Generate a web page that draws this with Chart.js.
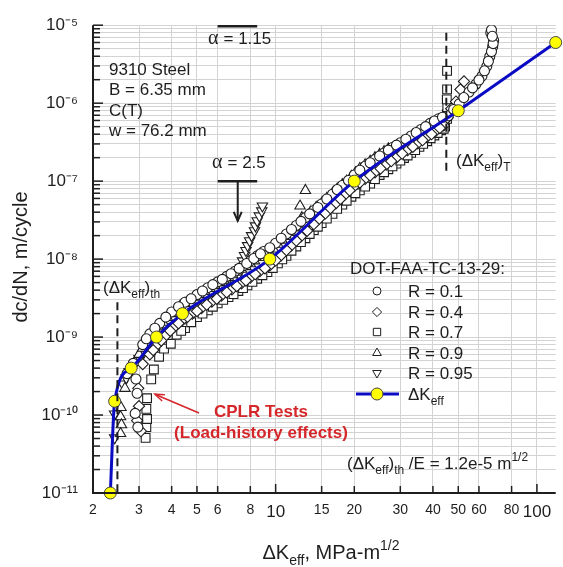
<!DOCTYPE html>
<html>
<head>
<meta charset="utf-8">
<script src="https://cdn.jsdelivr.net/npm/chart.js@4.4.1/dist/chart.umd.min.js"></script>
<style>
  html, body { margin: 0; padding: 0; background: #fff; }
</style>
</head>
<body>
<canvas id="crackChart" width="563" height="567"></canvas>
<script>
const FONT = "Arial, 'Liberation Sans', Helvetica, sans-serif";
const SERIF = "'Times New Roman', 'Liberation Serif', serif";
const INK = "#1e1e1e";

// axis ticks
const xTicks = [2, 3, 4, 5, 6, 8, 10, 15, 20, 30, 40, 50, 60, 80, 100];
const yDecades = [-11, -10, -9, -8, -7, -6, -5];
const yDecadeLabels = ["10⁻¹¹", "10⁻¹⁰", "10⁻⁹", "10⁻⁸", "10⁻⁷", "10⁻⁶", "10⁻⁵"];

// ΔKeff baseline curve (yellow points)
const keffK = [2.33, 2.42, 2.8, 3.5, 4.4, 9.5, 20, 50, 118];
const keffRate = [1e-11, 1.5e-10, 4e-10, 1e-9, 2e-9, 1e-8, 1e-7, 8e-7, 6e-6];

// R = 0.1 (circles)
const r01K = [2.92, 2.95, 2.9, 2.97, 2.7, 2.85, 3.1, 3.3, 3.6, 4.0, 4.5, 5.0, 5.5, 6.0, 6.5, 7.0, 7.5, 8.0, 8.5, 9.0,
  10, 11, 12, 13, 14, 15, 16.5, 18, 20, 22, 24, 26, 28, 30, 33, 36, 39, 42, 45.8,
  50.4, 55.0, 58.4, 61.6, 64.3, 66.0, 67.7, 68.3, 66.6, 67.0,
  3.2, 3.45, 3.8, 4.25, 4.75, 5.25, 5.75, 6.25, 6.75, 7.25, 7.75, 8.25, 8.75, 9.5, 10.5, 11.5, 12.5, 13.5, 14.5, 15.7,
  17.2, 19, 21, 23, 25, 27, 29, 31.5, 34.5, 37.5, 40.5, 43.5, 48, 52.5, 56.7, 60, 63, 65.2, 67, 68, 67.5];
const r01Rate = [2.9e-10, 1.9e-10, 1.05e-10, 7e-11, 3.4e-10, 4.6e-10, 8e-10, 1.1e-9, 1.5e-9, 2.1e-9, 2.8e-9, 3.5e-9, 4.3e-9, 5.1e-9, 6e-9, 7e-9, 8.2e-9, 9.5e-9, 1.1e-8, 1.25e-8,
  1.6e-8, 2.1e-8, 2.7e-8, 3.4e-8, 4.2e-8, 5.1e-8, 6.8e-8, 8.8e-8, 1.2e-7, 1.55e-7, 1.9e-7, 2.3e-7, 2.7e-7, 3.1e-7, 3.8e-7, 4.6e-7, 5.5e-7, 6.3e-7, 6.9e-7,
  9.8e-7, 1.39e-6, 1.75e-6, 2.22e-6, 2.97e-6, 3.98e-6, 5.3e-6, 6.4e-6, 8e-6, 8.7e-6,
  9.5e-10, 1.3e-9, 1.8e-9, 2.45e-9, 3.1e-9, 3.9e-9, 4.7e-9, 5.5e-9, 6.5e-9, 7.6e-9, 8.8e-9, 1.02e-8, 1.17e-8, 1.4e-8, 1.85e-8, 2.4e-8, 3.05e-8, 3.8e-8, 4.6e-8, 5.9e-8,
  7.8e-8, 1.02e-7, 1.38e-7, 1.72e-7, 2.1e-7, 2.5e-7, 2.9e-7, 3.45e-7, 4.2e-7, 5e-7, 5.9e-7, 6.6e-7, 8.3e-7, 1.18e-6, 1.57e-6, 1.98e-6, 2.6e-6, 3.45e-6, 4.6e-6, 5.8e-6, 7.2e-6];

// R = 0.4 (diamonds)
const r04K = [3.0, 2.95, 3.05, 2.98, 3.1, 3.3, 3.5, 3.8, 4.1, 4.4, 4.8, 5.2, 5.7, 6.2, 6.8, 7.4, 8.0, 8.7, 9.5, 10.5,
  11.5, 12.5, 14, 15.5, 17, 18.5, 20, 22, 24, 26.5, 29, 32, 35, 38, 41, 44, 47, 49, 51, 52.6,
  3.4, 3.65, 3.95, 4.25, 4.6, 5.0, 5.45, 5.95, 6.5, 7.1, 7.7, 8.35, 9.1, 10, 11, 12, 13.2, 14.7, 16.2, 17.7,
  19.2, 21, 23, 25.2, 27.7, 30.5, 33.5, 36.5, 39.5, 42.5, 45.5];
const r04Rate = [1.3e-10, 8.5e-11, 6.2e-11, 2.2e-10, 4.5e-10, 6e-10, 7.8e-10, 1.05e-9, 1.35e-9, 1.65e-9, 2e-9, 2.35e-9, 2.85e-9, 3.4e-9, 4.1e-9, 4.9e-9, 5.8e-9, 7e-9, 8.3e-9, 1.12e-8,
  1.5e-8, 1.95e-8, 2.8e-8, 3.85e-8, 5.2e-8, 6.8e-8, 8.6e-8, 1.07e-7, 1.3e-7, 1.63e-7, 2e-7, 2.5e-7, 3.05e-7, 3.7e-7, 4.4e-7, 5.2e-7, 8.5e-7, 1.05e-6, 1.5e-6, 1.9e-6,
  6.8e-10, 9e-10, 1.2e-9, 1.5e-9, 1.82e-9, 2.15e-9, 2.6e-9, 3.1e-9, 3.75e-9, 4.5e-9, 5.3e-9, 6.4e-9, 7.6e-9, 9.6e-9, 1.3e-8, 1.72e-8, 2.3e-8, 3.3e-8, 4.5e-8, 5.9e-8,
  7.6e-8, 9.6e-8, 1.18e-7, 1.45e-7, 1.8e-7, 2.25e-7, 2.75e-7, 3.35e-7, 4e-7, 4.8e-7, 6.5e-7];

// R = 0.7 (squares)
const r07K = [3.18, 3.2, 3.22, 3.2, 3.22, 3.34, 3.42, 3.58, 3.74, 3.97, 4.18, 4.5, 5.0, 5.5, 6.0, 6.6, 7.2, 7.8, 8.5, 9.3,
  10.2, 11, 12, 13, 14, 15, 16.5, 18, 19.5, 21, 23, 25, 27, 29, 31, 33, 35.5, 38, 40.5, 43,
  44.5, 45.3, 45.2, 45.4, 45.2, 45.3, 45.3,
  4.35, 4.75, 5.25, 5.75, 6.3, 6.9, 7.5, 8.15, 8.9, 9.75, 10.6, 11.5, 12.5, 13.5, 14.5, 15.7, 17.2, 18.7, 20.2, 22,
  24, 26, 28, 30, 32, 34.2, 36.7, 39.2, 41.7, 44];
const r07Rate = [5.1e-11, 7e-11, 8.9e-11, 1.2e-10, 1.64e-10, 2.87e-10, 3.84e-10, 5.6e-10, 7.1e-10, 8.2e-10, 1.07e-9, 1.3e-9, 1.8e-9, 2.2e-9, 2.7e-9, 3.25e-9, 3.9e-9, 4.6e-9, 5.6e-9, 6.8e-9,
  8.8e-9, 1.1e-8, 1.45e-8, 1.85e-8, 2.35e-8, 2.9e-8, 3.8e-8, 5e-8, 6.3e-8, 7.6e-8, 9.3e-8, 1.2e-7, 1.42e-7, 1.68e-7, 1.98e-7, 2.3e-7, 2.75e-7, 3.25e-7, 3.85e-7, 4.5e-7,
  5e-7, 6.3e-7, 7.2e-7, 8.9e-7, 1.12e-6, 1.5e-6, 2.6e-6,
  1.2e-9, 1.55e-9, 2e-9, 2.45e-9, 3e-9, 3.55e-9, 4.25e-9, 5.1e-9, 6.2e-9, 7.7e-9, 9.9e-9, 1.28e-8, 1.65e-8, 2.1e-8, 2.6e-8, 3.3e-8, 4.4e-8, 5.6e-8, 7e-8, 8.5e-8,
  1.06e-7, 1.3e-7, 1.55e-7, 1.83e-7, 2.13e-7, 2.5e-7, 3e-7, 3.55e-7, 4.15e-7, 4.7e-7];

// R = 0.9 (triangles)
const r09K = [2.56, 2.55, 2.57, 2.55, 2.65, 2.75, 2.9, 3.0, 3.2, 3.4, 3.7, 4.0, 4.3, 4.7, 5.1, 5.6, 6.1, 6.6, 7.1, 7.7,
  8.3, 9.0, 9.8, 10.6, 11.4, 12.2, 12.4, 12.6, 13.0, 13.6, 15, 16.5, 18, 19.5, 21, 23, 25, 27,
  3.1, 3.3, 3.55, 3.85, 4.15, 4.5, 4.9, 5.35, 5.85, 6.35, 6.85, 7.4, 8.0, 8.65, 9.4, 10.2, 11, 11.8, 14.3, 15.7,
  17.2, 18.7, 20.2, 22, 24, 26];
const r09Rate = [1.25e-10, 9.5e-11, 7.5e-11, 5.8e-11, 2.2e-10, 3.3e-10, 4.8e-10, 6e-10, 8.5e-10, 1.15e-9, 1.55e-9, 2e-9, 2.45e-9, 3e-9, 3.5e-9, 4.2e-9, 5e-9, 5.8e-9, 6.8e-9, 8e-9,
  9.5e-9, 1.15e-8, 1.35e-8, 1.75e-8, 2.2e-8, 2.8e-8, 4.8e-8, 3.4e-8, 7.6e-8, 4e-8, 5.2e-8, 6.9e-8, 9e-8, 1.15e-7, 1.45e-7, 1.8e-7, 2.2e-7, 2.6e-7,
  7.2e-10, 1e-9, 1.35e-9, 1.78e-9, 2.2e-9, 2.7e-9, 3.25e-9, 3.85e-9, 4.6e-9, 5.4e-9, 6.3e-9, 7.4e-9, 8.7e-9, 1.05e-8, 1.25e-8, 1.55e-8, 1.95e-8, 2.5e-8, 4.6e-8, 6e-8,
  7.9e-8, 1e-7, 1.28e-7, 1.62e-7, 2e-7, 2.4e-7];

// R = 0.95 (down triangles)
const r095K = [2.42, 2.42, 2.6, 2.75, 2.9, 3.1, 3.3, 3.6, 3.9, 4.2, 4.6, 5.0, 5.5, 6.0, 6.5, 7.0, 7.2, 7.35, 7.47, 7.6,
  7.7, 7.81, 7.95, 8.09, 8.3, 8.37, 8.5, 8.66, 8.85, 8.9,
  2.68, 2.82, 3.0, 3.2, 3.45, 3.75, 4.05, 4.4, 4.8, 5.25, 5.75, 6.25, 6.75];
const r095Rate = [1.03e-10, 5.1e-11, 2.5e-10, 3.6e-10, 4.6e-10, 6e-10, 7.5e-10, 9.5e-10, 1.2e-9, 1.5e-9, 1.85e-9, 2.2e-9, 2.7e-9, 3.3e-9, 4e-9, 4.8e-9, 6.3e-9, 7.8e-9, 9.5e-9, 1.11e-8,
  1.29e-8, 1.49e-8, 1.72e-8, 2e-8, 2.31e-8, 2.67e-8, 3.1e-8, 3.58e-8, 4.15e-8, 4.8e-8,
  3e-10, 4.1e-10, 5.3e-10, 6.8e-10, 8.5e-10, 1.07e-9, 1.35e-9, 1.68e-9, 2e-9, 2.45e-9, 3e-9, 3.65e-9, 4.4e-9];

const legendLabels = ["R = 0.1", "R = 0.4", "R = 0.7", "R = 0.9", "R = 0.95"];

const pts = (ks, rs) => ks.map((k, i) => ({ x: k, y: rs[i] }));

function markerSet(label, ks, rs, style, radius, rotation) {
  return {
    label,
    data: pts(ks, rs),
    showLine: false,
    pointStyle: style,
    pointRadius: radius,
    pointRotation: rotation || 0,
    pointBackgroundColor: "#ffffff",
    pointBorderColor: INK,
    pointBorderWidth: 1.1,
    order: 2,
  };
}

const markerStyles = [
  { style: "circle", r: 5, rot: 0 },
  { style: "rectRot", r: 5.6, rot: 0 },
  { style: "rect", r: 6.2, rot: 0 },
  { style: "triangle", r: 6, rot: 0 },
  { style: "triangle", r: 6, rot: 180 },
];

// little rich-text helper for sub/superscripts
function rich(ctx, x, y, parts, size, color, align, weight) {
  const w0 = weight ? weight + " " : "";
  const fonts = parts.map(([t, k]) =>
    k === "sub" || k === "sup" ? `${w0}${Math.round(size * 0.72)}px ${FONT}` : `${w0}${size}px ${FONT}`);
  let w = 0;
  parts.forEach((p, i) => { ctx.font = fonts[i]; w += ctx.measureText(p[0]).width; });
  let cx = align === "center" ? x - w / 2 : x;
  ctx.fillStyle = color;
  ctx.textAlign = "left";
  ctx.textBaseline = "alphabetic";
  parts.forEach(([t, k], i) => {
    ctx.font = fonts[i];
    const dy = k === "sub" ? size * 0.3 : k === "sup" ? -size * 0.45 : 0;
    ctx.fillText(t, cx, y + dy);
    cx += ctx.measureText(t).width;
  });
}

function seg(ctx, x1, y1, x2, y2) {
  ctx.beginPath(); ctx.moveTo(x1, y1); ctx.lineTo(x2, y2); ctx.stroke();
}

function alphaText(ctx, x, y, rest) {
  ctx.font = `20px ${SERIF}`;
  ctx.fillText("α", x, y);
  const w = ctx.measureText("α").width;
  ctx.font = `17px ${FONT}`;
  ctx.fillText(rest, x + w + 5, y);
}

const decor = {
  id: "decor",
  afterDraw(chart) {
    const { ctx, chartArea: a, scales: { x, y } } = chart;
    ctx.save();

    // axes
    ctx.strokeStyle = INK;
    ctx.lineWidth = 2;
    ctx.beginPath();
    ctx.moveTo(a.left, a.top); ctx.lineTo(a.left, a.bottom); ctx.lineTo(a.right, a.bottom);
    ctx.stroke();

    // inward tick marks
    ctx.lineWidth = 1.5;
    y.ticks.forEach(t => {
      const py = y.getPixelForValue(t.value);
      seg(ctx, a.left, py, a.left + (t.major ? 10 : 7), py);
    });
    x.ticks.forEach(t => {
      const px = x.getPixelForValue(t.value);
      seg(ctx, px, a.bottom, px, a.bottom - (t.value === 10 || t.value === 100 ? 9 : 7));
    });

    // dashed threshold / transition lines
    ctx.lineWidth = 2;
    ctx.setLineDash([8, 5]);
    const xTh = x.getPixelForValue(2.48);
    seg(ctx, xTh, y.getPixelForValue(2.8e-9), xTh, a.bottom);
    const xT = x.getPixelForValue(45);
    seg(ctx, xT, y.getPixelForValue(8e-6), xT, y.getPixelForValue(1.25e-7));
    ctx.setLineDash([]);

    // alpha markers
    ctx.lineWidth = 2.5;
    seg(ctx, x.getPixelForValue(6.0), y.getPixelForValue(1e-5) + 1, x.getPixelForValue(8.5), y.getPixelForValue(1e-5) + 1);
    const yA = y.getPixelForValue(1e-7);
    seg(ctx, x.getPixelForValue(6.0), yA, x.getPixelForValue(8.5), yA);
    const xA = x.getPixelForValue(7.16);
    const yTip = y.getPixelForValue(3.1e-8);
    ctx.lineWidth = 2;
    seg(ctx, xA, yA, xA, yTip);
    ctx.beginPath();
    ctx.moveTo(xA - 4, yTip - 9); ctx.lineTo(xA, yTip); ctx.lineTo(xA + 4, yTip - 9);
    ctx.stroke();

    ctx.fillStyle = INK;
    ctx.textBaseline = "alphabetic";
    ctx.textAlign = "left";
    alphaText(ctx, 208, 44, "= 1.15");
    alphaText(ctx, 212, 168, "= 2.5");

    // material block
    ctx.font = `17px ${FONT}`;
    ["9310 Steel", "B = 6.35 mm", "C(T)", "w = 76.2 mm"].forEach((s, i) => {
      ctx.fillText(s, 109, 75 + i * 20.3);
    });

    // labels on the lines
    rich(ctx, 103, 293, [["(ΔK"], ["eff", "sub"], [")"], ["th", "sub"]], 17, INK);
    rich(ctx, 456, 166, [["(ΔK"], ["eff", "sub"], [")"], ["T", "sub"]], 17, INK);
    rich(ctx, 347, 469, [["(ΔK"], ["eff", "sub"], [")"], ["th", "sub"], [" /E = 1.2e-5 m"], ["1/2", "sup"]], 17, INK);

    // CPLR note
    ctx.fillStyle = "#d5262a";
    ctx.font = `bold 17px ${FONT}`;
    ctx.textAlign = "center";
    ctx.fillText("CPLR Tests", 261, 417);
    ctx.fillText("(Load-history effects)", 261, 438);
    ctx.textAlign = "left";
    ctx.strokeStyle = "#d5262a";
    ctx.lineWidth = 1.5;
    const tipX = x.getPixelForValue(3.45), tipY = y.getPixelForValue(1.85e-10);
    seg(ctx, 199, 413, tipX, tipY);
    const ang = Math.atan2(413 - tipY, 199 - tipX);
    ctx.beginPath();
    ctx.moveTo(tipX + 10 * Math.cos(ang - 0.35), tipY + 10 * Math.sin(ang - 0.35));
    ctx.lineTo(tipX, tipY);
    ctx.lineTo(tipX + 10 * Math.cos(ang + 0.35), tipY + 10 * Math.sin(ang + 0.35));
    ctx.stroke();

    // legend
    ctx.fillStyle = INK;
    ctx.font = `17px ${FONT}`;
    ctx.fillText("DOT-FAA-TC-13-29:", 350, 274);
    const rowY = [291, 312, 332, 353, 373];
    const legR = [4, 4.6, 5.2, 5, 5];
    ctx.strokeStyle = INK;
    ctx.lineWidth = 1;
    markerStyles.forEach((m, i) => {
      ctx.fillStyle = "#ffffff";
      Chart.helpers.drawPoint(ctx, { pointStyle: m.style, radius: legR[i], rotation: m.rot, borderWidth: 1 }, 377, rowY[i]);
      ctx.fillStyle = INK;
      ctx.font = `17px ${FONT}`;
      ctx.textBaseline = "middle";
      ctx.fillText(legendLabels[i], 408, rowY[i] + 1);
      ctx.textBaseline = "alphabetic";
    });
    ctx.strokeStyle = "#0b0bc4";
    ctx.lineWidth = 3;
    seg(ctx, 356, 394, 399, 394);
    ctx.fillStyle = "#ffff00";
    ctx.strokeStyle = "#444";
    ctx.lineWidth = 1;
    ctx.beginPath(); ctx.arc(377, 394, 6, 0, Math.PI * 2); ctx.fill(); ctx.stroke();
    rich(ctx, 408, 400, [["ΔK"], ["eff", "sub"]], 17, INK);

    // axis titles
    rich(ctx, 331, 559, [["ΔK"], ["eff", "sub"], [", MPa-m"], ["1/2", "sup"]], 20, INK, "center");
    ctx.save();
    ctx.translate(21, 257);
    ctx.rotate(-Math.PI / 2);
    ctx.fillStyle = INK;
    ctx.font = `20px ${FONT}`;
    ctx.textAlign = "center";
    ctx.textBaseline = "middle";
    ctx.fillText("dc/dN, m/cycle", 0, 0);
    ctx.restore();

    ctx.restore();
  },
};

const datasets = [
  {
    label: "ΔKeff",
    data: pts(keffK, keffRate),
    showLine: true,
    borderColor: "#0b0bc4",
    borderWidth: 3,
    cubicInterpolationMode: "monotone",
    pointRadius: 6,
    pointBackgroundColor: "#ffff00",
    pointBorderColor: "#444",
    pointBorderWidth: 1,
    clip: false,
    order: 0,
  },
  markerSet("R = 0.1", r01K, r01Rate, markerStyles[0].style, markerStyles[0].r, markerStyles[0].rot),
  markerSet("R = 0.4", r04K, r04Rate, markerStyles[1].style, markerStyles[1].r, markerStyles[1].rot),
  markerSet("R = 0.7", r07K, r07Rate, markerStyles[2].style, markerStyles[2].r, markerStyles[2].rot),
  markerSet("R = 0.9", r09K, r09Rate, markerStyles[3].style, markerStyles[3].r, markerStyles[3].rot),
  markerSet("R = 0.95", r095K, r095Rate, markerStyles[4].style, markerStyles[4].r, markerStyles[4].rot),
];

const ctx = document.getElementById("crackChart").getContext("2d");
new Chart(ctx, {
  type: "scatter",
  data: { datasets },
  options: {
    responsive: false,
    animation: false,
    devicePixelRatio: 1,
    events: [],
    layout: { padding: { top: 21, right: 0, bottom: 0, left: 0 } },
    plugins: {
      legend: { display: false },
      tooltip: { enabled: false },
    },
    scales: {
      x: {
        type: "logarithmic",
        min: 2,
        max: 118,
        afterBuildTicks: (axis) => {
          axis.ticks = xTicks.map(v => ({ value: v }));
        },
        afterFit: (axis) => { axis.height = 74; },
        ticks: {
          autoSkip: false,
          maxRotation: 0,
          padding: 9,
          color: INK,
          font: (c) => ({ family: FONT, size: c.tick && (c.tick.value === 10 || c.tick.value === 100) ? 17 : 14 }),
          callback: (v) => String(v),
        },
        grid: { color: "#d3d3d3", lineWidth: 1, drawTicks: false },
        border: { display: false },
      },
      y: {
        type: "logarithmic",
        min: 1e-11,
        max: 1e-5,
        afterBuildTicks: (axis) => {
          const t = [];
          yDecades.forEach(d => {
            for (let m = 1; m <= 9; m++) {
              if (d === -5 && m > 1) break;
              t.push({ value: m * Math.pow(10, d), major: m === 1 });
            }
          });
          axis.ticks = t;
        },
        afterFit: (axis) => { axis.width = 93; },
        ticks: {
          autoSkip: false,
          padding: 15,
          color: INK,
          font: { family: FONT, size: 17 },
          callback: (v) => {
            const i = yDecades.findIndex(d => Math.abs(Math.log10(v) - d) < 1e-6);
            return i >= 0 ? yDecadeLabels[i] : "";
          },
        },
        grid: { color: "#d3d3d3", lineWidth: 1, drawTicks: false },
        border: { display: false },
      },
    },
  },
  plugins: [decor],
});
</script>
</body>
</html>
